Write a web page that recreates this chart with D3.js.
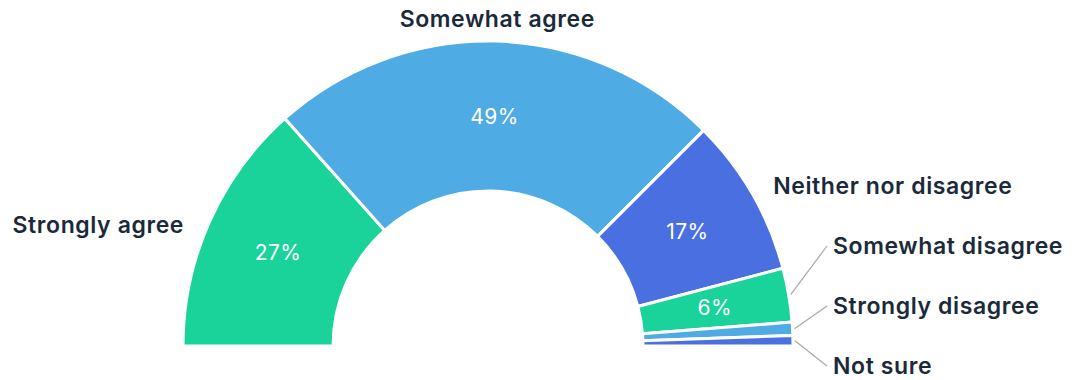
<!DOCTYPE html>
<html>
<head>
<meta charset="utf-8">
<script src="https://cdn.jsdelivr.net/npm/d3@7"></script>
<style>
  body { margin: 0; background: #fff; }
  svg { display: block; font-family: Inter, "Noto Sans", sans-serif; }
</style>
</head>
<body>
<div id="chart"></div>
<script>
var categories = ['Strongly agree', 'Somewhat agree', 'Neither nor disagree',
                  'Somewhat disagree', 'Strongly disagree', 'Not sure'];
var values = [26.8, 48.2, 16.8, 5.7, 1.4, 1.1];
var percentLabels = ['27%', '49%', '17%', '6%', '', ''];
var colors = ['#19d39b', '#4eabe3', '#4a6fe0', '#19d39b', '#4eabe3', '#4a6fe0'];

var width = 1072, height = 380;
var cx = 488, cy = 346;
var outerR = 305, innerR = 155, labelR = 327;

var svg = d3.select('#chart').append('svg')
    .attr('width', width).attr('height', height);

var data = categories.map(function(c, i) {
    return { name: c, value: values[i], pct: percentLabels[i], color: colors[i] };
});

var pie = d3.pie().sort(null).value(function(d) { return d.value; })
    .startAngle(-Math.PI / 2).endAngle(Math.PI / 2);
var arcs = pie(data);

var arc = d3.arc().innerRadius(innerR).outerRadius(outerR);

var g = svg.append('g').attr('transform', 'translate(' + cx + ',' + cy + ')');

g.selectAll('path').data(arcs).enter().append('path')
    .attr('d', arc)
    .attr('fill', function(d) { return d.data.color; })
    .attr('stroke', '#fff')
    .attr('stroke-width', 3)
    .attr('stroke-linejoin', 'round');

g.selectAll('text.pct').data(arcs).enter().append('text')
    .attr('class', 'pct')
    .attr('transform', function(d) { return 'translate(' + arc.centroid(d) + ')'; })
    .attr('text-anchor', 'middle')
    .attr('dy', '0.36em')
    .attr('fill', '#fff')
    .style('font-size', '21px')
    .style('letter-spacing', '0.4px')
    .text(function(d) { return d.data.pct; });

// label layout: natural spot on a circle, right side stacked up from the bottom
var labels = arcs.map(function(d) {
    var a = (d.startAngle + d.endAngle) / 2;
    return {
        d: d, a: a,
        ny: -labelR * Math.cos(a),
        side: Math.sin(a) > 0.2 ? 1 : (Math.sin(a) < -0.2 ? -1 : 0),
        small: d.data.value < 10
    };
});

var rightSide = labels.filter(function(l) { return l.side === 1; })
    .sort(function(a, b) { return b.ny - a.ny; });
var gap = 60;
rightSide.forEach(function(l, i) {
    l.y = 20 - i * gap;
});
labels.forEach(function(l) {
    if (l.y === undefined) l.y = l.side === -1 ? l.ny + 13 : l.ny;
    var dx = Math.sqrt(Math.max(0, labelR * labelR - l.y * l.y));
    if (l.small) {
        l.x = outerR + 40;
        l.anchor = 'start';
    } else if (l.side === 0) {
        l.x = labelR * Math.sin(l.a);
        l.anchor = 'middle';
    } else {
        l.x = l.side * dx;
        l.anchor = l.side > 0 ? 'start' : 'end';
    }
});

g.selectAll('line.conn').data(labels.filter(function(l) { return l.small; }))
    .enter().append('line')
    .attr('class', 'conn')
    .attr('x1', function(l) { return (outerR + 2) * Math.sin(l.a); })
    .attr('y1', function(l) { return -(outerR + 2) * Math.cos(l.a); })
    .attr('x2', function(l) { return l.x - 6; })
    .attr('y2', function(l) { return l.y; })
    .attr('stroke', '#a9a9a9')
    .attr('stroke-width', 1.2);

g.selectAll('text.name').data(labels).enter().append('text')
    .attr('class', 'name')
    .attr('x', function(l) { return l.x; })
    .attr('y', function(l) { return l.y; })
    .attr('dy', '0.35em')
    .attr('text-anchor', function(l) { return l.anchor; })
    .attr('fill', '#1b2a3a')
    .style('font-size', '23px')
    .style('font-weight', 600)
    .style('letter-spacing', '0.6px')
    .text(function(l) { return l.d.data.name; });
</script>
</body>
</html>
